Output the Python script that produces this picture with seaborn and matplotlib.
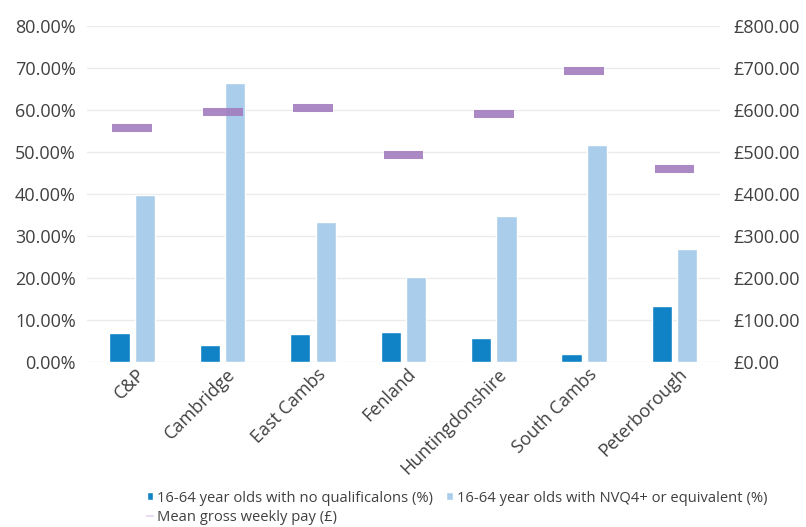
import numpy as np
import pandas as pd
import matplotlib
matplotlib.use("Agg")
import matplotlib.pyplot as plt
import matplotlib.ticker as mticker
import matplotlib.transforms as mtransforms
from matplotlib.patches import Patch
from matplotlib.lines import Line2D
import seaborn as sns

areas = ["C&P", "Cambridge", "East Cambs", "Fenland", "Huntingdonshire",
         "South Cambs", "Peterborough"]
no_quals = [7.0, 4.1, 6.7, 7.1, 5.7, 1.9, 13.4]       # %
nvq4 = [39.8, 66.5, 33.3, 20.3, 34.8, 51.7, 27.0]     # %
weekly_pay = [556, 594, 604, 492, 590, 692, 460]      # £

lab_noq = "16-64 year olds with no qualificalons (%)"
lab_nvq = "16-64 year olds with NVQ4+ or equivalent (%)"
lab_pay = "Mean gross weekly pay (£)"

dark_blue = "#0F83C6"
light_blue = "#ABCDEC"
purple = "#A27CBE"
txt = "#404040"

sns.set_style("white")
plt.rcParams["font.family"] = ["Open Sans", "DejaVu Sans"]

df = pd.DataFrame({
    "area": areas * 2,
    "value": no_quals + nvq4,
    "series": [lab_noq] * len(areas) + [lab_nvq] * len(areas),
})

fig = plt.figure(figsize=(8.06, 5.27), dpi=100)
ax = fig.add_axes([0.108, 0.313, 0.785, 0.638])

sns.barplot(data=df, x="area", y="value", hue="series", order=areas,
            hue_order=[lab_noq, lab_nvq], palette=[dark_blue, light_blue],
            saturation=1, width=0.56, gap=0.2, legend=False, ax=ax, zorder=2)

ax.set_ylim(0, 80)
ax.set_yticks(np.arange(0, 81, 10))
ax.yaxis.set_major_formatter(mticker.FuncFormatter(lambda v, p: f"{v:.2f}%"))
ax.grid(axis="y", color="#EBEBEB", linewidth=1, zorder=0)
ax.set_axisbelow(True)
ax.set_xlabel("")
ax.set_ylabel("")
ax.tick_params(axis="y", length=0, pad=8, labelsize=13, labelcolor=txt)
ax.tick_params(axis="x", length=0, pad=4, labelsize=13, labelcolor=txt)
shift = mtransforms.ScaledTranslation(10 / 100, -4 / 100, fig.dpi_scale_trans)
for lab in ax.get_xticklabels():
    lab.set_rotation(45)
    lab.set_ha("right")
    lab.set_va("center")
    lab.set_rotation_mode("anchor")
    lab.set_transform(lab.get_transform() + shift)
for s in ax.spines.values():
    s.set_visible(False)

ax2 = ax.twinx()
xpos = np.arange(len(areas))
ax2.hlines(weekly_pay, xpos - 0.22, xpos + 0.22, colors=purple,
           linewidth=5.8, alpha=0.9, capstyle="butt", zorder=3)
ax2.set_ylim(0, 800)
ax2.set_yticks(np.arange(0, 801, 100))
ax2.yaxis.set_major_formatter(mticker.FuncFormatter(lambda v, p: f"£{v:.2f}"))
ax2.tick_params(axis="y", length=0, pad=10, labelsize=13, labelcolor=txt)
for s in ax2.spines.values():
    s.set_visible(False)
ax.set_xlim(-0.5, len(areas) - 0.5)

handles = [
    Patch(facecolor=dark_blue, label=lab_noq),
    Line2D([], [], color="#E6DCEF", linewidth=1.5, label=lab_pay),
    Patch(facecolor=light_blue, label=lab_nvq),
]
leg = fig.legend(handles=handles, ncol=2, loc="upper left",
                 bbox_to_anchor=(0.182, 0.069), frameon=False,
                 fontsize=10.6, handlelength=0.45, handleheight=0.45,
                 handletextpad=0.25, columnspacing=0.9, labelspacing=0.3,
                 borderpad=0, borderaxespad=0)
for t in leg.get_texts():
    t.set_color(txt)

fig.savefig("out.png", dpi=100)
